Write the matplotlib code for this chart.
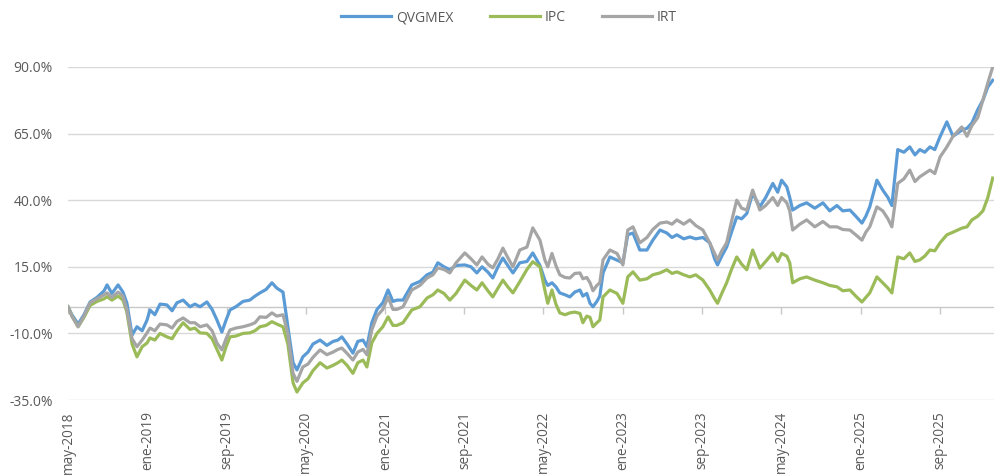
import pandas as pd
import matplotlib
matplotlib.use("Agg")
import matplotlib.pyplot as plt
from matplotlib.ticker import FuncFormatter

plt.rcParams["font.family"] = ["Open Sans", "DejaVu Sans"]

# values (cumulative return, %)
dates = [
    "2018-05-01", "2018-05-13", "2018-06-01", "2018-06-19", "2018-07-08", "2018-07-29",
    "2018-08-20", "2018-08-29", "2018-09-13", "2018-10-02", "2018-10-17", "2018-10-29",
    "2018-11-14", "2018-11-29", "2018-12-15", "2018-12-30", "2019-01-08", "2019-01-23",
    "2019-02-08", "2019-03-01", "2019-03-17", "2019-04-01", "2019-04-20", "2019-05-11",
    "2019-05-26", "2019-06-11", "2019-07-02", "2019-07-18", "2019-08-02", "2019-08-17",
    "2019-08-30", "2019-09-11", "2019-09-29", "2019-10-21", "2019-11-11", "2019-11-27",
    "2019-12-12", "2019-12-31", "2020-01-18", "2020-02-02", "2020-02-21", "2020-03-07",
    "2020-03-23", "2020-04-04", "2020-04-22", "2020-05-08", "2020-05-23", "2020-06-14",
    "2020-07-05", "2020-07-24", "2020-08-08", "2020-08-20", "2020-09-05", "2020-09-23",
    "2020-10-08", "2020-10-24", "2020-11-05", "2020-11-20", "2020-12-06", "2020-12-24",
    "2021-01-09", "2021-01-24", "2021-02-05", "2021-02-24", "2021-03-23", "2021-04-17",
    "2021-05-09", "2021-05-27", "2021-06-11", "2021-06-30", "2021-07-18", "2021-08-06",
    "2021-09-02", "2021-09-21", "2021-10-09", "2021-10-25", "2021-11-12", "2021-11-27",
    "2021-12-13", "2021-12-28", "2022-01-12", "2022-01-28", "2022-02-18", "2022-03-12",
    "2022-03-30", "2022-04-21", "2022-05-06", "2022-05-15", "2022-05-28", "2022-06-09",
    "2022-06-21", "2022-07-07", "2022-07-22", "2022-08-06", "2022-08-22", "2022-08-31",
    "2022-09-12", "2022-09-22", "2022-10-01", "2022-10-13", "2022-10-22", "2022-11-01",
    "2022-11-22", "2022-12-14", "2023-01-01", "2023-01-16", "2023-02-01", "2023-02-22",
    "2023-03-16", "2023-04-03", "2023-04-25", "2023-05-16", "2023-06-01", "2023-06-16",
    "2023-07-07", "2023-07-26", "2023-08-13", "2023-09-04", "2023-09-25", "2023-10-10",
    "2023-10-19", "2023-11-01", "2023-11-16", "2023-12-01", "2023-12-17", "2024-01-01",
    "2024-01-17", "2024-02-04", "2024-02-26", "2024-03-15", "2024-04-06", "2024-04-21",
    "2024-05-03", "2024-05-19", "2024-05-28", "2024-06-06", "2024-06-28", "2024-07-19",
    "2024-08-13", "2024-09-07", "2024-09-28", "2024-10-20", "2024-11-07", "2024-11-29",
    "2024-12-17", "2025-01-05", "2025-01-17", "2025-01-29", "2025-02-20", "2025-03-10",
    "2025-03-26", "2025-04-07", "2025-04-25", "2025-05-14", "2025-06-01", "2025-06-17",
    "2025-07-02", "2025-07-17", "2025-08-02", "2025-08-17", "2025-09-02", "2025-09-23",
    "2025-10-12", "2025-11-08", "2025-11-24", "2025-12-09", "2025-12-27", "2026-01-12",
    "2026-01-27", "2026-02-11",
]

qvgmex = [
    0, -3, -6.5, -3, 1.8, 3.5, 6, 8.2, 5, 8.2, 5.5, 1.4,
    -10.6, -7.5, -9, -5, -1.2, -3, 1, 0.7, -1.5, 1.5, 2.5, 0,
    1, 0, 1.8, -1, -5, -9.5, -5, -1.2, 0, 2, 2.5, 4,
    5.2, 6.5, 9, 7, 5.5, -7.5, -21, -23.7, -18.8, -17, -14, -12.5,
    -14.5, -13, -12.5, -11.3, -14, -17.4, -13, -12.5, -15, -6, -1, 1.5,
    6.3, 2, 2.5, 2.5, 8.2, 9.5, 12, 13, 16.5, 15, 13.9, 15.5,
    15.7, 15, 12.7, 15, 13, 10.8, 15, 18.3, 15.5, 12.7, 16.5, 17,
    20.2, 15.5, 10, 8, 9, 7.5, 5.2, 4.5, 3.7, 5.5, 6.3, 4,
    5, 1.3, 0, 2, 4, 12.7, 18.7, 17.5, 16.5, 27, 27.7, 21.3,
    21.3, 25, 28.8, 27.7, 26, 27, 25.5, 26.2, 25.5, 26, 24, 18,
    15.7, 19, 22.4, 28, 33.7, 33, 35, 42.6, 37.5, 41, 46.3, 43,
    47.5, 45, 41, 36.3, 38, 39, 37, 39, 36, 38, 36, 36.3,
    34, 31.4, 34, 37.5, 47.5, 43.8, 41, 38, 59, 58, 60, 57,
    59, 58, 60, 59, 63.8, 69.4, 64, 66.3, 67, 69, 74, 77.6,
    82.5, 85,
]

ipc = [
    0, -3.5, -7.5, -4, 0.5, 2, 3, 3.8, 2.5, 4, 2.5, -2,
    -14, -18.8, -15, -13.6, -11.7, -12.5, -10, -11.3, -12, -9, -6, -8.5,
    -8, -9.8, -10, -12, -16, -20, -15, -11.3, -11, -10, -9.8, -9,
    -7.5, -7, -5.6, -6.5, -7.5, -14, -28.6, -32, -28.6, -27, -24, -21,
    -23, -22, -21, -20, -22, -25, -21, -20, -22.6, -13.6, -10, -7.5,
    -3.8, -7, -7, -6, -1.2, 0, 3.3, 4.5, 6.3, 5, 2.5, 5,
    10, 8, 6.3, 9, 6, 3.7, 7, 10, 7.5, 5.2, 9.4, 14,
    16.9, 15, 6.3, 1.3, 6.3, 1, -2.3, -3, -2.3, -2, -2.5, -6,
    -3.5, -4, -7.5, -6, -5, 3.7, 6.3, 5, 1.3, 11.2, 13.1, 10,
    10.5, 12, 12.7, 13.9, 12.5, 13.1, 12, 11.2, 12, 10, 6.3, 3,
    1.3, 5, 9, 14, 18.7, 16, 13.9, 21.3, 14.5, 17, 20.2, 17,
    20, 19, 16.5, 9, 10.5, 11.2, 10, 9, 8, 7.5, 6, 6.3,
    4, 1.8, 3.5, 5.2, 11.2, 9, 7, 5.2, 18.7, 18, 20.2, 17,
    17.6, 19, 21.3, 21, 24, 27, 28, 29.5, 30, 32.6, 34, 36,
    41, 48.3,
]

irt = [
    0, -3.5, -7.5, -3.5, 1.5, 3, 4.5, 5.2, 3.5, 5.5, 4, -1.2,
    -12, -15, -12.5, -9.8, -8, -9, -6.5, -6.8, -8, -5.5, -4.2, -6,
    -6, -7.5, -6.8, -9, -13.6, -16.2, -12, -8.7, -8, -7.5, -6.8, -6,
    -3.8, -4, -2.3, -3.5, -3, -10, -25, -28, -22.6, -21.5, -19, -16.2,
    -18, -17, -16, -15.5, -17.5, -20, -17, -16, -18, -8.7, -3.5, -1,
    3.7, -1, -1, 0, 6.3, 8, 10.8, 12, 14.6, 14, 12.7, 16.5,
    20.2, 18, 15.7, 18.7, 16, 14.6, 18, 22, 18.5, 15, 21.3, 22.4,
    29.6, 25, 17.6, 15, 20, 15.5, 12, 11, 10.8, 12.5, 12.7, 10.5,
    11, 9, 6, 8, 9, 17.6, 21.3, 20, 15.7, 28.8, 30, 24,
    26, 29, 31.4, 31.8, 31, 32.6, 31, 32.6, 30.5, 28.8, 24, 20,
    17.6, 21, 24, 32, 40, 37, 36.3, 43.8, 36.3, 38, 41, 38,
    41, 39, 36, 28.8, 31, 32.6, 30, 32, 30, 30, 29, 28.8,
    27, 25, 28, 30, 37.5, 36, 33, 30, 46.3, 48, 51.3, 47,
    48.8, 50, 51.3, 50, 56.2, 60, 64, 67.5, 64, 68, 71, 77.6,
    84, 90,
]

tick_labels = [
    "may-2018", "ene-2019", "sep-2019", "may-2020", "ene-2021", "sep-2021",
    "may-2022", "ene-2023", "sep-2023", "may-2024", "ene-2025", "sep-2025",
]
y_ticks = [-35, -10, 15, 40, 65, 90]

x = pd.to_datetime(dates)
tick_dates = pd.date_range("2018-05-01", periods=len(tick_labels), freq="8MS")

text_color = "#595959"
grid_color = "#D9D9D9"

fig = plt.figure(figsize=(9.94, 4.75), dpi=100)
ax = fig.add_axes([68 / 994, 75 / 475, (994 - 68) / 994, 333 / 475])

for v in y_ticks:
    ax.axhline(v, color=grid_color, lw=1, zorder=0)
ax.axhline(0, color="#C8C8C8", lw=1, zorder=0.5)
ax.plot(tick_dates, [0] * len(tick_dates), ls="none", marker=3, ms=5,
        mew=1, color="#C8C8C8", zorder=0.5)

ax.plot(x, qvgmex, color="#5B9BD5", lw=2.3, label="QVGMEX", solid_joinstyle="round")
ax.plot(x, ipc, color="#9BBB59", lw=2.3, label="IPC", solid_joinstyle="round")
ax.plot(x, irt, color="#A5A5A5", lw=2.3, label="IRT", solid_joinstyle="round")

ax.set_xlim(pd.Timestamp("2018-05-01"), pd.Timestamp("2026-02-15"))
ax.set_ylim(-35, 90)
ax.set_yticks(y_ticks)
ax.yaxis.set_major_formatter(FuncFormatter(lambda v, p: f"{v:.1f}%"))
ax.set_xticks(tick_dates)
ax.set_xticklabels(tick_labels, rotation=90)

ax.tick_params(axis="y", length=0, pad=11, labelsize=10, labelcolor=text_color)
ax.tick_params(axis="x", length=0, pad=8, labelsize=9.8, labelcolor=text_color)
for s in ax.spines.values():
    s.set_visible(False)

fig.legend(loc="upper center", bbox_to_anchor=(0.512, 1.005), ncol=3, frameon=False,
           fontsize=10, handlelength=3.6, handletextpad=0.35, columnspacing=2.6,
           labelcolor=text_color)

fig.savefig("out.png", dpi=100)
